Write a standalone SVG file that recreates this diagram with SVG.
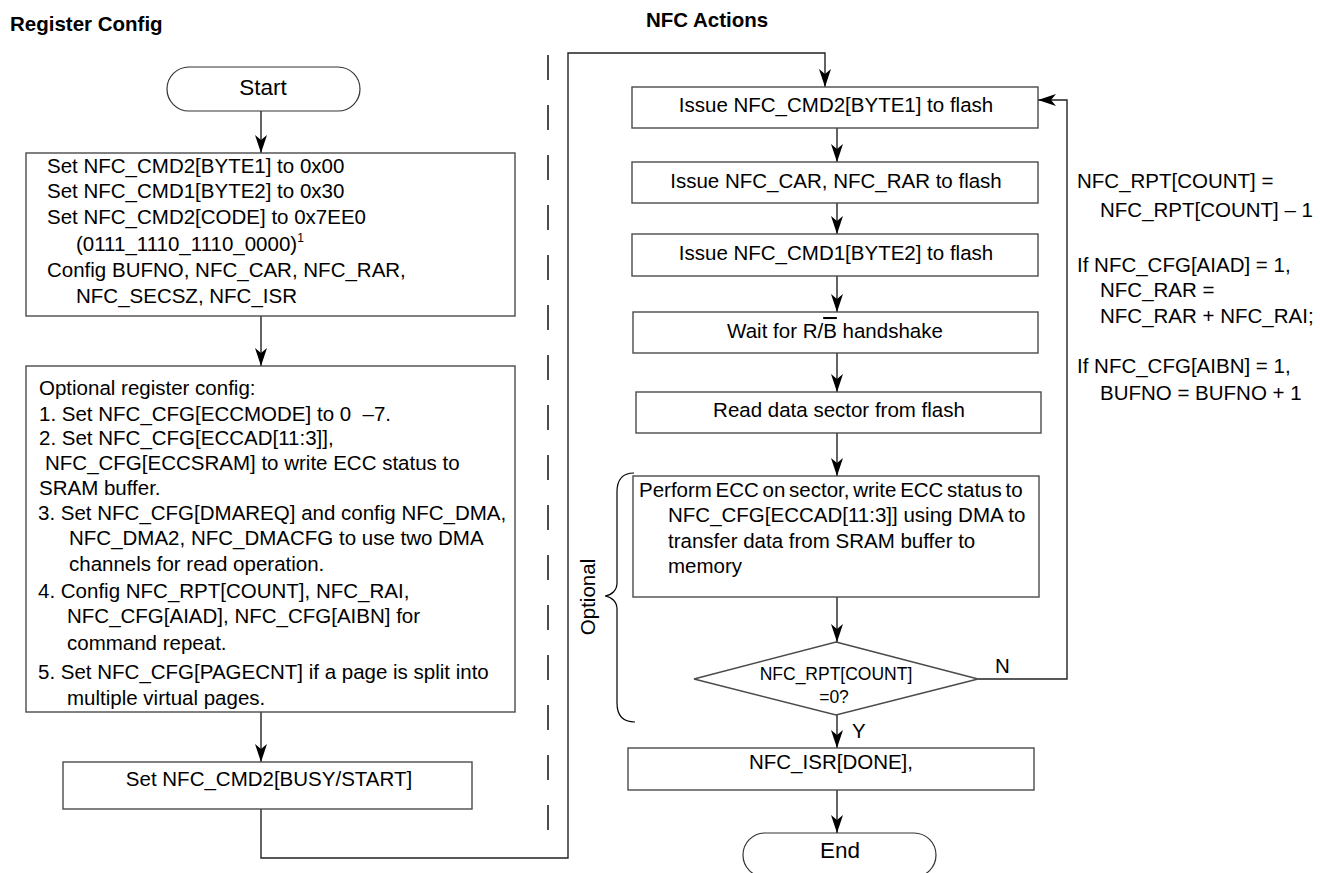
<svg xmlns="http://www.w3.org/2000/svg" width="1320" height="873" viewBox="0 0 1320 873">
<style>
text{font-family:"Liberation Sans",Arial,sans-serif;fill:#000;font-size:20.5px}
.title{font-weight:bold}
.box{fill:#fff;stroke:#4a4a4a;stroke-width:1.4}
.term{fill:#fff;stroke:#333;stroke-width:1.2}
.conn{fill:none;stroke:#222;stroke-width:1.4}
.mid{text-anchor:middle}
.big{font-size:22.5px}
.dec{font-size:17.5px}
</style>
<defs>
<marker id="ah" markerUnits="userSpaceOnUse" markerWidth="20" markerHeight="14" refX="18" refY="6" orient="auto">
<path d="M0,0 L18,6 L0,12 L5,6 z" fill="#000"/>
</marker>
</defs>
<rect width="1320" height="873" fill="#fff"/>
<text class="title" x="10" y="31">Register Config</text>
<text class="title" x="646" y="27">NFC Actions</text>
<line x1="548" y1="55" x2="548" y2="832" stroke="#000" stroke-width="1.4" stroke-dasharray="25 25"/>

<g id="connectors">
<path class="conn" d="M261 111 V153" marker-end="url(#ah)"/>
<path class="conn" d="M261 316 V366" marker-end="url(#ah)"/>
<path class="conn" d="M261 712 V762" marker-end="url(#ah)"/>
<path class="conn" d="M261 809 V858 H568 V53 H825 V87" marker-end="url(#ah)"/>
<path class="conn" d="M837 128 V162" marker-end="url(#ah)"/>
<path class="conn" d="M837 203 V234" marker-end="url(#ah)"/>
<path class="conn" d="M837 276 V312" marker-end="url(#ah)"/>
<path class="conn" d="M837 353 V392" marker-end="url(#ah)"/>
<path class="conn" d="M837 433 V476" marker-end="url(#ah)"/>
<path class="conn" d="M837 597 V642" marker-end="url(#ah)"/>
<path class="conn" d="M837 715 V748" marker-end="url(#ah)"/>
<path class="conn" d="M837 790 V833" marker-end="url(#ah)"/>
<path class="conn" d="M978 679 H1067 V100 H1038" marker-end="url(#ah)"/>
<text x="995" y="673">N</text>
<text x="852" y="738">Y</text>
</g>

<g id="start">
<rect class="term" x="167" y="67" width="193" height="44" rx="22"/>
<text class="mid big" x="263" y="95">Start</text>
</g>

<g id="box1">
<rect class="box" x="26" y="153" width="489" height="163"/>
<text x="47" y="173">Set NFC_CMD2[BYTE1] to 0x00</text>
<text x="47" y="198">Set NFC_CMD1[BYTE2] to 0x30</text>
<text x="47" y="224">Set NFC_CMD2[CODE] to 0x7EE0</text>
<text x="76" y="251">(0111_1110_1110_0000)<tspan font-size="12" dy="-9">1</tspan></text>
<text x="47" y="277">Config BUFNO, NFC_CAR, NFC_RAR,</text>
<text x="76" y="303">NFC_SECSZ, NFC_ISR</text>
</g>

<g id="box2">
<rect class="box" x="26" y="366" width="489" height="346"/>
<text x="39" y="395">Optional register config:</text>
<text x="39" y="421" style="white-space:pre">1. Set NFC_CFG[ECCMODE] to 0  –7.</text>
<text x="39" y="445">2. Set NFC_CFG[ECCAD[11:3]],</text>
<text x="45" y="470">NFC_CFG[ECCSRAM] to write ECC status to</text>
<text x="39" y="495">SRAM buffer.</text>
<text x="38" y="520">3. Set NFC_CFG[DMAREQ] and config NFC_DMA,</text>
<text x="69" y="545">NFC_DMA2, NFC_DMACFG to use two DMA</text>
<text x="69" y="571">channels for read operation.</text>
<text x="38" y="598">4. Config NFC_RPT[COUNT], NFC_RAI,</text>
<text x="67" y="623">NFC_CFG[AIAD], NFC_CFG[AIBN] for</text>
<text x="67" y="650">command repeat.</text>
<text x="38" y="679">5. Set NFC_CFG[PAGECNT] if a page is split into</text>
<text x="67" y="705">multiple virtual pages.</text>
</g>

<g id="busy">
<rect class="box" x="63" y="762" width="409" height="47"/>
<text class="mid" x="269" y="786">Set NFC_CMD2[BUSY/START]</text>
</g>

<g id="issue1">
<rect class="box" x="632" y="87" width="406" height="41"/>
<text class="mid" x="836" y="112">Issue NFC_CMD2[BYTE1] to flash</text>
</g>
<g id="issue2">
<rect class="box" x="632" y="162" width="406" height="41"/>
<text class="mid" x="836" y="188">Issue NFC_CAR, NFC_RAR to flash</text>
</g>
<g id="issue3">
<rect class="box" x="632" y="234" width="406" height="42"/>
<text class="mid" x="836" y="260">Issue NFC_CMD1[BYTE2] to flash</text>
</g>
<g id="wait">
<rect class="box" x="633" y="312" width="405" height="41"/>
<text class="mid" x="835" y="338">Wait for R/<tspan style="text-decoration:overline">B</tspan> handshake</text>
</g>
<g id="read">
<rect class="box" x="636" y="392" width="405" height="41"/>
<text class="mid" x="839" y="417">Read data sector from flash</text>
</g>
<g id="ecc">
<rect class="box" x="633" y="476" width="406" height="121"/>
<text x="639" y="497" word-spacing="-2">Perform ECC on sector, write ECC status to</text>
<text x="668" y="522">NFC_CFG[ECCAD[11:3]] using DMA to</text>
<text x="668" y="548">transfer data from SRAM buffer to</text>
<text x="668" y="573">memory</text>
</g>
<g id="optional">
<path d="M634 473 C622 473 617 480 617 492 L617 583 C617 590 612 595 605 596 C612 597 617 602 617 609 L617 703 C617 715 622 722 635 722" fill="none" stroke="#000" stroke-width="1.2"/>
<text class="mid" transform="translate(595,597) rotate(-90)">Optional</text>
</g>
<g id="decision">
<polygon class="box" points="836,642 978,679 836,715 694,679"/>
<text class="mid dec" x="836" y="680">NFC_RPT[COUNT]</text>
<text class="mid dec" x="834" y="703">=0?</text>
</g>
<g id="done">
<rect class="box" x="628" y="748" width="406" height="42"/>
<text class="mid" x="831" y="769">NFC_ISR[DONE],</text>
</g>
<g id="end">
<rect class="term" x="743" y="833" width="193" height="44" rx="22"/>
<text class="mid big" x="840" y="858">End</text>
</g>
<g id="notes">
<text x="1077" y="188">NFC_RPT[COUNT] =</text>
<text x="1100" y="217">NFC_RPT[COUNT] – 1</text>
<text x="1077" y="272">If NFC_CFG[AIAD] = 1,</text>
<text x="1100" y="297">NFC_RAR =</text>
<text x="1100" y="323">NFC_RAR + NFC_RAI;</text>
<text x="1077" y="373">If NFC_CFG[AIBN] = 1,</text>
<text x="1100" y="400">BUFNO = BUFNO + 1</text>
</g>
</svg>
